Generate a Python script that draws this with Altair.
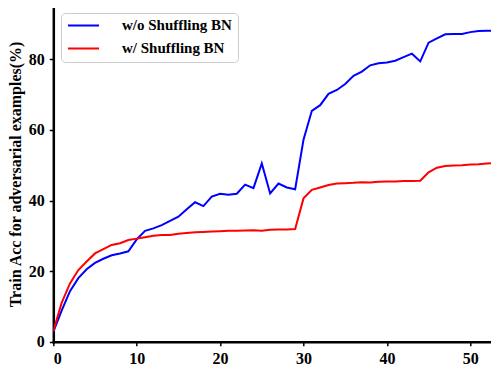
import altair as alt
import pandas as pd

epochs = list(range(0, 55))
wo_shuffle = [2.8, 8.8, 14.3, 18.0, 20.5, 22.3, 23.5, 24.5, 25.0, 25.6,
              29.0, 31.4, 32.1, 33.0, 34.2, 35.4, 37.5, 39.5, 38.4, 41.1,
              41.9, 41.6, 41.9, 44.5, 43.5, 50.5, 42.0, 44.8, 43.7, 43.2,
              57.2, 65.4, 67.0, 70.2, 71.3, 73.0, 75.3, 76.5, 78.3, 78.9,
              79.1, 79.6, 80.6, 81.6, 79.4, 84.7, 85.9, 87.1, 87.2, 87.2,
              87.7, 88.0, 88.1, 88.1, 88.1]
w_shuffle = [3.0, 11.0, 16.5, 20.3, 22.7, 25.0, 26.2, 27.4, 27.9, 28.8,
             29.2, 29.6, 30.0, 30.2, 30.2, 30.6, 30.8, 31.0, 31.1, 31.2,
             31.3, 31.4, 31.4, 31.5, 31.6, 31.4, 31.7, 31.8, 31.8, 31.9,
             40.6, 43.0, 43.7, 44.4, 44.8, 44.9, 45.0, 45.2, 45.1, 45.3,
             45.4, 45.4, 45.5, 45.5, 45.6, 48.0, 49.3, 49.8, 49.9, 50.0,
             50.2, 50.3, 50.5, 50.6, 50.7]
series_names = ["w/o Shuffling BN", "w/ Shuffling BN"]
series_colors = ["#0000ff", "#ff0000"]
x_ticks = [0, 10, 20, 30, 40, 50]
y_ticks = [0, 20, 40, 60, 80]

df = pd.concat([
    pd.DataFrame({"Epoch": epochs, "Acc": wo_shuffle, "Series": series_names[0], "k": 0}),
    pd.DataFrame({"Epoch": epochs, "Acc": w_shuffle, "Series": series_names[1], "k": 1}),
])

FONT = "Liberation Serif"
LEFT = 45.3
W = 499 - 8 - LEFT
H = 335.7

xscale = alt.Scale(domain=[0, W / 8.34], nice=False, zero=False)
yscale = alt.Scale(domain=[0, H / 3.53], nice=False)

color = alt.Color(
    "Series:N",
    scale=alt.Scale(domain=series_names, range=series_colors),
    legend=alt.Legend(
        title=None, orient="none", legendX=7.7, legendY=7,
        symbolType="M-3,0H3", symbolSize=107, symbolStrokeWidth=2,
        symbolOffset=10, labelOffset=31,
        labelFont=FONT, labelFontSize=15, labelFontWeight="bold",
        labelColor="black", padding=5,
        strokeColor="#cccccc", fillColor="white", cornerRadius=4,
        rowPadding=7, labelLimit=300,
    ),
)

lines = alt.Chart(df).mark_line(strokeWidth=2, clip=True).encode(
    x=alt.X("Epoch:Q", scale=xscale,
            axis=alt.Axis(values=x_ticks, title="Epoch", titleX=225.7, titleY=41,
                          titleBaseline="alphabetic", titleAnchor="start", titleAlign="center")),
    y=alt.Y("Acc:Q", scale=yscale,
            axis=alt.Axis(values=y_ticks, title="Train Acc for adversarial examples(%)",
                          titleX=-33, titleY=168, titleBaseline="alphabetic", titleAlign="center")),
    color=color,
    order="k:Q",
)

top_spine = alt.Chart(df).mark_rule(color="black", strokeWidth=2.5).encode(
    y=alt.value(0), x=alt.value(0), x2=alt.value(W)
)

chart = alt.layer(lines, top_spine).properties(
    width=W, height=H,
    autosize=alt.AutoSizeParams(type="none"),
    padding={"left": LEFT, "top": -2, "right": -8, "bottom": 25},
).configure_view(stroke=None).configure_axis(
    grid=False, domainColor="black", domainWidth=2.5, domainCap="square",
    tickColor="black", tickWidth=1.5, tickSize=4, labelPadding=5,
    labelFont=FONT, labelFontSize=16, labelFontWeight="bold", labelColor="black",
    titleFont=FONT, titleFontSize=16, titleFontWeight="bold", titleColor="black",
)

chart.save("out.html", embed_options={"renderer": "svg", "actions": False})
